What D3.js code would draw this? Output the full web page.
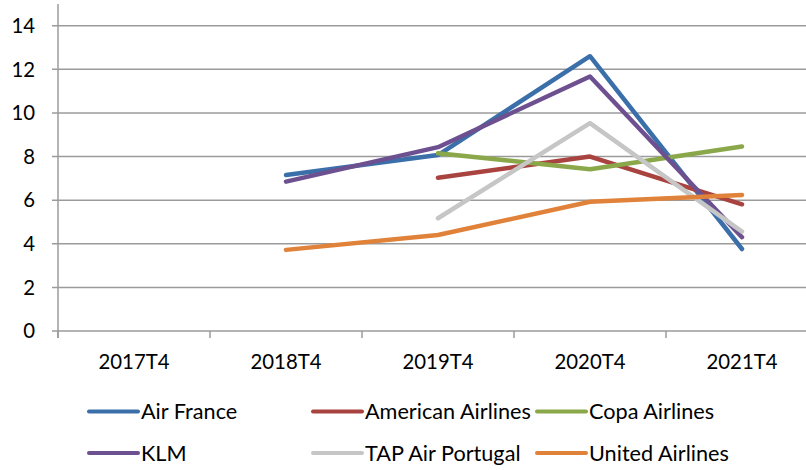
<!DOCTYPE html>
<html><head><meta charset="utf-8">
<script src="https://cdn.jsdelivr.net/npm/d3@7"></script>
<style>
html,body{margin:0;padding:0;background:#fff;}
svg{display:block;}
text{font-family:"Lato",sans-serif;fill:#000;}
</style></head>
<body>
<svg id="c" width="806" height="470"></svg>
<script>
const categories = ["2017T4","2018T4","2019T4","2020T4","2021T4"];
const seriesNames = ["Air France","American Airlines","Copa Airlines","KLM","TAP Air Portugal","United Airlines"];
const airFrance      = [null, 7.15, 8.07, 12.6, 3.76];
const americanAir    = [null, null, 7.03, 8.0, 5.81];
const copaAirlines   = [null, null, 8.15, 7.42, 8.46];
const klm            = [null, 6.85, 8.43, 11.67, 4.3];
const tapAirPortugal = [null, null, 5.17, 9.53, 4.56];
const unitedAirlines = [null, 3.72, 4.4, 5.93, 6.24];
const yTicks = [0,2,4,6,8,10,12,14];
const colors = ["#3b6faa","#a9433f","#8aa84a","#6d5090","#c6c6c6","#e0823a"];

const seriesValues = [airFrance, americanAir, copaAirlines, klm, tapAirPortugal, unitedAirlines];

const svg = d3.select("#c");
const pL = 58, pR = 818, pT = 25.7, pB = 331;
const x = d3.scaleBand().domain(categories).range([pL, pR]);
const y = d3.scaleLinear().domain([0,14]).range([pB, pT]);
const grid = "#9b9b9b";

// fit font sizes to the reference text widths
function fitSize(str, target) {
  const t = svg.append("text").style("font-size", "20px").text(str);
  const w = t.node().getComputedTextLength();
  t.remove();
  return 20 * target / w;
}
const tickFont = fitSize("2017T4", 71) + "px";
const legFont = fitSize("American Airlines", 166) + "px";

// gridlines
svg.append("g").selectAll("line").data(yTicks).join("line")
  .attr("x1", pL - 6).attr("x2", pR)
  .attr("y1", d => y(d)).attr("y2", d => y(d))
  .attr("stroke", grid).attr("stroke-width", 1.5);

// y axis line
svg.append("line").attr("x1", pL).attr("x2", pL)
  .attr("y1", 4).attr("y2", pB + 7)
  .attr("stroke", grid).attr("stroke-width", 1.5);

// x tick marks at band boundaries
const bounds = categories.map(c => x(c)).concat([pR]);
svg.append("g").selectAll("line").data(bounds).join("line")
  .attr("x1", d => d).attr("x2", d => d)
  .attr("y1", pB).attr("y2", pB + 7)
  .attr("stroke", grid).attr("stroke-width", 1.5);

// y labels
svg.append("g").selectAll("text").data(yTicks).join("text")
  .attr("x", 35).attr("y", d => y(d)).attr("dy", "0.36em")
  .attr("text-anchor", "end").style("font-size", tickFont)
  .text(d => d);

// x labels
svg.append("g").selectAll("text").data(categories).join("text")
  .attr("x", d => x(d) + x.bandwidth()/2).attr("y", 361.5).attr("dy", "0.36em")
  .attr("text-anchor", "middle").style("font-size", tickFont)
  .text(d => d);

// lines
const line = d3.line()
  .defined(d => d.v != null)
  .x(d => x(d.c) + x.bandwidth()/2)
  .y(d => y(d.v));
seriesValues.forEach((vals, i) => {
  const pts = categories.map((c, j) => ({c, v: vals[j]}));
  svg.append("path").datum(pts).attr("d", line)
    .attr("fill", "none").attr("stroke", colors[i])
    .attr("stroke-width", 4.5).attr("stroke-linecap", "round")
    .attr("stroke-linejoin", "round");
});

// legend
const legX = [89, 313, 537];
const legY = [411.5, 453];
seriesNames.forEach((n, i) => {
  const lx = legX[i % 3], ly = legY[Math.floor(i / 3)];
  svg.append("line").attr("x1", lx).attr("x2", lx + 49)
    .attr("y1", ly).attr("y2", ly)
    .attr("stroke", colors[i]).attr("stroke-width", 4).attr("stroke-linecap", "round");
  svg.append("text").attr("x", lx + 52).attr("y", ly).attr("dy", "0.36em")
    .style("font-size", legFont).text(n);
});
</script>
</body></html>
